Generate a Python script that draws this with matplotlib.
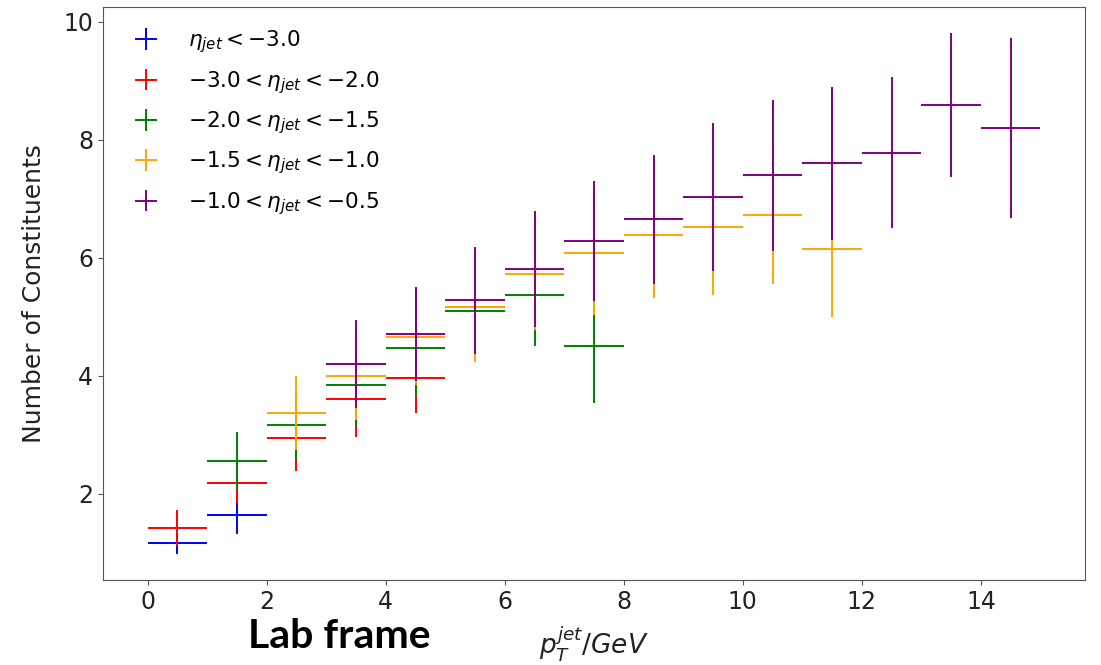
#!/usr/bin/env python3
"""Number of jet constituents vs jet pT, split in eta_jet bins (lab frame)."""
import matplotlib
matplotlib.use("Agg")
import matplotlib.pyplot as plt

# bin centres are pT bins of 1 GeV width
HALF_BIN = 0.5

BLUE_X = [0.5, 1.5]
BLUE_Y = [1.16, 1.64]
BLUE_ERR = [0.18, 0.33]

RED_X = [0.5, 1.5, 2.5, 3.5, 4.5]
RED_Y = [1.42, 2.18, 2.95, 3.61, 3.96]
RED_ERR = [0.30, 0.33, 0.57, 0.65, 0.59]

GREEN_X = [1.5, 2.5, 3.5, 4.5, 5.5, 6.5, 7.5]
GREEN_Y = [2.55, 3.16, 3.84, 4.47, 5.10, 5.37, 4.50]
GREEN_ERR = [0.49, 0.58, 0.69, 0.82, 0.80, 0.87, 0.96]

ORANGE_X = [2.5, 3.5, 4.5, 5.5, 6.5, 7.5, 8.5, 9.5, 10.5, 11.5]
ORANGE_Y = [3.37, 3.99, 4.65, 5.16, 5.73, 6.08, 6.39, 6.53, 6.73, 6.15]
ORANGE_ERR = [0.62, 0.74, 0.80, 0.93, 0.95, 1.05, 1.07, 1.16, 1.18, 1.16]

PURPLE_X = [3.5, 4.5, 5.5, 6.5, 7.5, 8.5, 9.5, 10.5, 11.5, 12.5, 13.5, 14.5]
PURPLE_Y = [4.20, 4.71, 5.28, 5.81, 6.29, 6.65, 7.03, 7.40, 7.60, 7.78, 8.59, 8.20]
PURPLE_ERR = [0.74, 0.80, 0.91, 0.99, 1.02, 1.10, 1.25, 1.28, 1.30, 1.28, 1.22, 1.52]

LABELS = [
    r"$\eta_{jet} < -3.0$",
    r"$-3.0 < \eta_{jet} < -2.0$",
    r"$-2.0 < \eta_{jet} < -1.5$",
    r"$-1.5 < \eta_{jet} < -1.0$",
    r"$-1.0 < \eta_{jet} < -0.5$",
]
COLORS = ["blue", "red", "green", "orange", "purple"]


def main():
    fig = plt.figure(figsize=(11.01, 6.65), dpi=100)
    ax = fig.add_axes([0.0936, 0.1278, 0.8919, 0.8617])

    series = [
        (BLUE_X, BLUE_Y, BLUE_ERR),
        (RED_X, RED_Y, RED_ERR),
        (GREEN_X, GREEN_Y, GREEN_ERR),
        (ORANGE_X, ORANGE_Y, ORANGE_ERR),
        (PURPLE_X, PURPLE_Y, PURPLE_ERR),
    ]
    for (xs, ys, errs), col, lab in zip(series, COLORS, LABELS):
        ax.errorbar(xs, ys, xerr=HALF_BIN, yerr=errs, fmt="none",
                    ecolor=col, elinewidth=1.4, label=lab)

    ax.set_xticks([0, 2, 4, 6, 8, 10, 12, 14])
    ax.set_yticks([2, 4, 6, 8, 10])
    ax.tick_params(labelsize=17, colors="#555555", labelcolor="#222222",
                   length=3.5)
    for sp in ax.spines.values():
        sp.set_color("#555555")

    ax.set_ylabel("Number of Constituents", fontsize=18, color="#222222")
    ax.yaxis.set_label_coords(-0.058, 0.5)
    ax.set_xlabel(r"$p_T^{jet}/GeV$", fontsize=19, color="#222222")
    ax.xaxis.set_label_coords(0.5, -0.078)

    ax.legend(loc="upper left", frameon=False, fontsize=15.5,
              labelspacing=0.63, borderpad=0.5, handletextpad=0.95)

    fig.text(0.2252, 0.0256, "Lab frame", fontfamily="Lato",
             fontweight="bold", fontsize=29.5, va="baseline", color="black")

    fig.savefig("out.png", dpi=100)
    plt.close(fig)


if __name__ == "__main__":
    main()
